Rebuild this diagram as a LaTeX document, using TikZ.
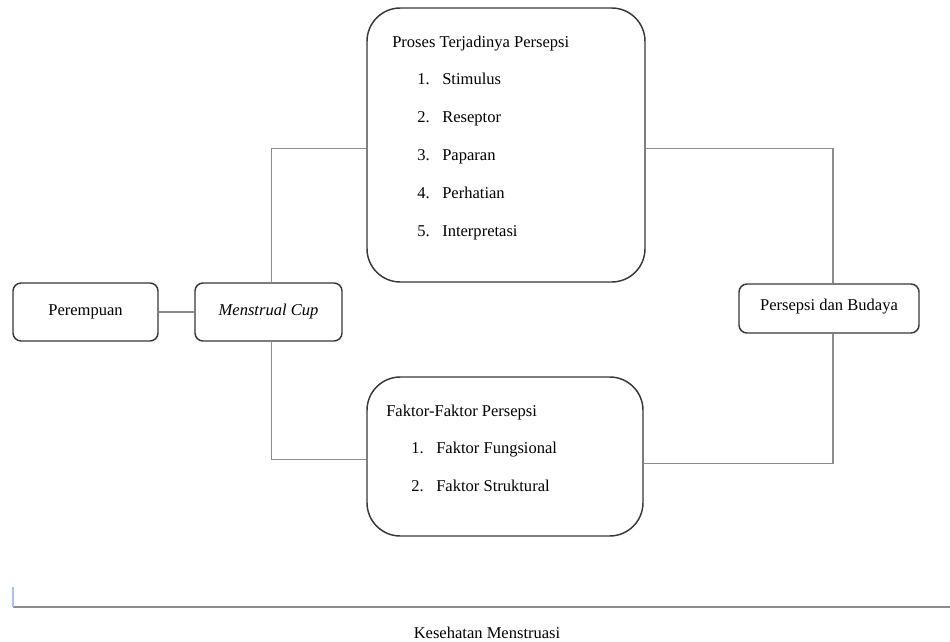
\documentclass[tikz,border=0pt]{standalone}
\usepackage{fontspec}
\setmainfont{Liberation Serif}
\newcommand\pxl{0.75pt}
\definecolor{faintblue}{HTML}{A9C2EE}
\tikzset{
  smallbox/.style={draw=black!78, line width=1.1pt, rounded corners=6pt, fill=white},
  bigbox/.style={draw=black!78, line width=1.1pt, rounded corners=25pt, fill=white},
  link/.style={draw=black!45, line width=0.8pt},
  txt/.style={inner sep=0pt, text height=0.7em, text depth=0.22em}
}
\begin{document}
\begin{tikzpicture}[x=0.75pt, y=-0.75pt, font=\fontsize{12.4}{15}\selectfont]
  \useasboundingbox (0,0) rectangle (950,642);

  %Boxes
  \node[smallbox, minimum width=145*\pxl, minimum height=58*\pxl] (per) at (85.5,312) {Perempuan};
  \node[smallbox, minimum width=147*\pxl, minimum height=58*\pxl] (mc) at (268.5,312) {\textit{Menstrual Cup}};
  \node[bigbox, minimum width=278*\pxl, minimum height=274*\pxl] (proses) at (506,145) {};
  \node[bigbox, minimum width=276*\pxl, minimum height=159*\pxl] (faktor) at (505,456.5) {};
  \node[smallbox, minimum width=180*\pxl, minimum height=49*\pxl, text depth=0.6em] (pdb) at (829,308.5) {Persepsi dan Budaya};

  %Texts in the big boxes
  \node[txt, anchor=west] (ptitle) at (392,44.5) {Proses Terjadinya Persepsi};
  \foreach \t [count=\n] in {Stimulus, Reseptor, Paparan, Perhatian, Interpretasi}
    \node[txt, anchor=west] (pitem\n) at (417,{81.5+(\n-1)*38}) {\makebox[18.75pt][l]{\n.}\t};
  \node[txt, anchor=west] (ftitle) at (386,413.5) {Faktor-Faktor Persepsi};
  \foreach \t [count=\n] in {Faktor Fungsional, Faktor Struktural}
    \node[txt, anchor=west] (fitem\n) at (411,{450.5+(\n-1)*38}) {\makebox[18.75pt][l]{\n.}\t};

  %Connectors
  \draw[link] (per.east) -- (mc.west);
  \draw[link] ([xshift=2.5pt]mc.north) |- ([yshift=-2.3pt]proses.west);
  \draw[link] ([xshift=2.5pt]mc.south) |- ([yshift=-2.5pt]faktor.west);
  \draw[link] ([yshift=-2.3pt]proses.east) -| ([xshift=3pt]pdb.north);
  \draw[link] ([xshift=3pt]pdb.south) |- ([yshift=-5.5pt]faktor.east);

  %Bottom
  \draw[black!45, line width=0.9pt] (13,607) -- (950,607);
  \draw[faintblue, line width=0.9pt] (13,587) -- (13,607);
  \node[txt] (kes) at (487,635) {Kesehatan Menstruasi};
\end{tikzpicture}
\end{document}
